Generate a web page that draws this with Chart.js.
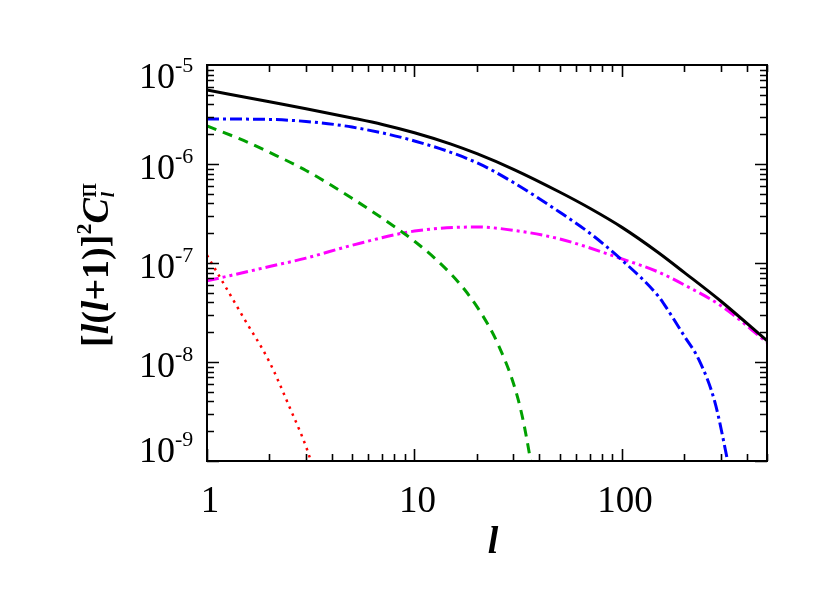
<!DOCTYPE html>
<html>
<head>
<meta charset="utf-8">
<script src="https://cdn.jsdelivr.net/npm/chart.js@4.4.0/dist/chart.umd.min.js"></script>
<style>
  html, body { margin: 0; padding: 0; background: #ffffff; }
  #powerChart { display: block; }
</style>
</head>
<body>
<canvas id="powerChart" width="830" height="593"></canvas>
<script>
// multipole l and [l(l+1)]^2 C_l values
const lTotal = [1, 2, 3, 5, 7, 10, 15, 20, 30, 50, 70, 100, 150, 200, 300, 500];
const cTotal = [5.6e-6, 4.25e-6, 3.62e-6, 2.92e-6, 2.51e-6, 2.07e-6, 1.59e-6, 1.27e-6, 8.83e-7, 5.21e-7, 3.57e-7, 2.29e-7, 1.27e-7, 8.0e-8, 4.11e-8, 1.64e-8];

const lBlue = [1, 2, 3, 5, 10, 20, 30, 50, 70, 100, 150, 160, 200, 235, 280, 320, 340];
const cBlue = [2.85e-6, 2.82e-6, 2.69e-6, 2.36e-6, 1.71e-6, 1.03e-6, 6.5e-7, 3.27e-7, 2.0e-7, 1.07e-7, 4.6e-8, 3.8e-8, 1.82e-8, 1.05e-8, 3.98e-9, 1.1e-9, 5.6e-10];

const lGreen = [1, 1.5, 2, 3, 5, 7, 10, 12.5, 15, 17.5, 20, 22.5, 25, 30, 33, 36, 38];
const cGreen = [2.42e-6, 1.73e-6, 1.31e-6, 8.6e-7, 4.5e-7, 2.83e-7, 1.66e-7, 1.12e-7, 7.73e-8, 5.33e-8, 3.62e-8, 2.43e-8, 1.59e-8, 6.07e-9, 2.88e-9, 1.11e-9, 5.5e-10];

const lMagenta = [1, 2, 3, 5, 10, 20, 30, 50, 100, 150, 200, 300, 500];
const cMagenta = [6.6e-8, 9.2e-8, 1.12e-7, 1.51e-7, 2.1e-7, 2.31e-7, 2.14e-7, 1.75e-7, 1.1e-7, 8.1e-8, 6.0e-8, 3.7e-8, 1.58e-8];

const lRed = [1, 1.25, 1.5, 2, 2.5, 3, 3.2, 3.4];
const cRed = [1.2e-7, 5.4e-8, 2.8e-8, 1.0e-8, 3.5e-9, 1.4e-9, 9.3e-10, 6e-10];

// axis ticks
const xTicks = [1, 10, 100];
const xTickLabels = ['1', '10', '100'];
const yTicks = [1e-5, 1e-6, 1e-7, 1e-8, 1e-9];
const yTickExps = ['-5', '-6', '-7', '-8', '-9'];

const SERIF = "'Liberation Serif', 'Times New Roman', serif";

function toPoints(ls, cs) {
    return ls.map((l, i) => ({ x: l, y: cs[i] }));
}

// frame, inward ticks and all labels (with superscripts)
const framePlugin = {
    id: 'frameTicks',
    afterDatasetsDraw(chart) {
        const ctx = chart.ctx;
        const a = chart.chartArea;
        const xs = chart.scales.x;
        const ys = chart.scales.y;
        ctx.save();

        // box
        ctx.strokeStyle = '#000';
        ctx.lineWidth = 2;
        ctx.strokeRect(a.left, a.top, a.right - a.left, a.bottom - a.top);

        // x ticks (bottom and top)
        ctx.lineWidth = 1.6;
        ctx.beginPath();
        for (let d = 0; d <= 2; d++) {
            for (let m = 1; m <= 9; m++) {
                const v = m * Math.pow(10, d);
                if (v > xs.max) break;
                const px = Math.round(xs.getPixelForValue(v)) + 0.5;
                const len = m === 1 ? 12 : 7;
                ctx.moveTo(px, a.bottom); ctx.lineTo(px, a.bottom - len);
                ctx.moveTo(px, a.top); ctx.lineTo(px, a.top + len);
            }
        }
        // y ticks (left and right)
        for (let d = -9; d <= -6; d++) {
            for (let m = 1; m <= 9; m++) {
                const v = m * Math.pow(10, d);
                const py = Math.round(ys.getPixelForValue(v)) + 0.5;
                const len = m === 1 ? 12 : 7;
                ctx.moveTo(a.left, py); ctx.lineTo(a.left + len, py);
                ctx.moveTo(a.right, py); ctx.lineTo(a.right - len, py);
            }
        }
        ctx.stroke();

        ctx.fillStyle = '#000';

        // x tick labels
        ctx.font = '37px ' + SERIF;
        ctx.textAlign = 'center';
        ctx.textBaseline = 'alphabetic';
        xTicks.forEach((v, i) => {
            const px = xs.getPixelForValue(v);
            ctx.fillText(xTickLabels[i], px + 3, 512);
        });

        // y tick labels 10^n
        yTicks.forEach((v, i) => {
            const py = ys.getPixelForValue(v);
            const center = Math.min(Math.max(py + 2.5, a.top + 10.5), a.bottom - 11.5);
            const base = center + 12.5;
            ctx.font = '36px ' + SERIF;
            ctx.textAlign = 'right';
            ctx.fillText('10', 175, base);
            ctx.font = '22px ' + SERIF;
            ctx.textAlign = 'left';
            ctx.fillText(yTickExps[i], 175, base - 16);
        });

        // x axis title
        ctx.font = 'italic bold 38px ' + SERIF;
        ctx.textAlign = 'center';
        ctx.fillText('l', (a.left + a.right) / 2 + 6, 553);

        // y axis title, rotated: [l(l+1)]^2 C_l^Pi
        ctx.translate(108, 347);
        ctx.rotate(-Math.PI / 2);
        ctx.textAlign = 'left';
        const parts = [
            { t: '[', f: 'bold 38px ' },
            { t: 'l', f: 'italic bold 38px ' },
            { t: '(', f: 'bold 38px ' },
            { t: 'l', f: 'italic bold 38px ' },
            { t: '+1)]', f: 'bold 38px ' },
            { t: '2', f: 'bold 22px ', dy: -17 },
            { t: 'C', f: 'italic bold 38px ' }
        ];
        let cx = 0;
        parts.forEach(p => {
            ctx.font = p.f + SERIF;
            ctx.fillText(p.t, cx, p.dy || 0);
            cx += ctx.measureText(p.t).width;
        });
        ctx.font = 'italic bold 19px ' + SERIF;
        ctx.fillText('l', cx + 1, 6);
        ctx.font = 'bold 18px ' + SERIF;
        ctx.fillText('\u03A0', cx + 1, -12);

        ctx.restore();
    }
};

new Chart(document.getElementById('powerChart'), {
    type: 'line',
    data: {
        datasets: [
            {
                data: toPoints(lTotal, cTotal),
                borderColor: '#000000',
                borderWidth: 3
            },
            {
                data: toPoints(lBlue, cBlue),
                borderColor: '#0000ff',
                borderWidth: 3,
                borderDash: [12, 4, 3, 4]
            },
            {
                data: toPoints(lGreen, cGreen),
                borderColor: '#00a000',
                borderWidth: 3,
                borderDash: [10, 7]
            },
            {
                data: toPoints(lMagenta, cMagenta),
                borderColor: '#ff00ff',
                borderWidth: 3,
                borderDash: [12, 4, 3, 4, 3, 4]
            },
            {
                data: toPoints(lRed, cRed),
                borderColor: '#ff0000',
                borderWidth: 2.5,
                borderDash: [2.5, 5]
            }
        ]
    },
    options: {
        responsive: false,
        animation: false,
        layout: {
            padding: { left: 207, right: 63, top: 65, bottom: 132 }
        },
        elements: {
            point: { radius: 0, hoverRadius: 0 },
            line: { cubicInterpolationMode: 'monotone', fill: false }
        },
        plugins: {
            legend: { display: false },
            tooltip: { enabled: false }
        },
        scales: {
            x: { type: 'logarithmic', min: 1, max: 500, display: false },
            y: { type: 'logarithmic', min: 1e-9, max: 1e-5, display: false }
        }
    },
    plugins: [framePlugin]
});
</script>
</body>
</html>
